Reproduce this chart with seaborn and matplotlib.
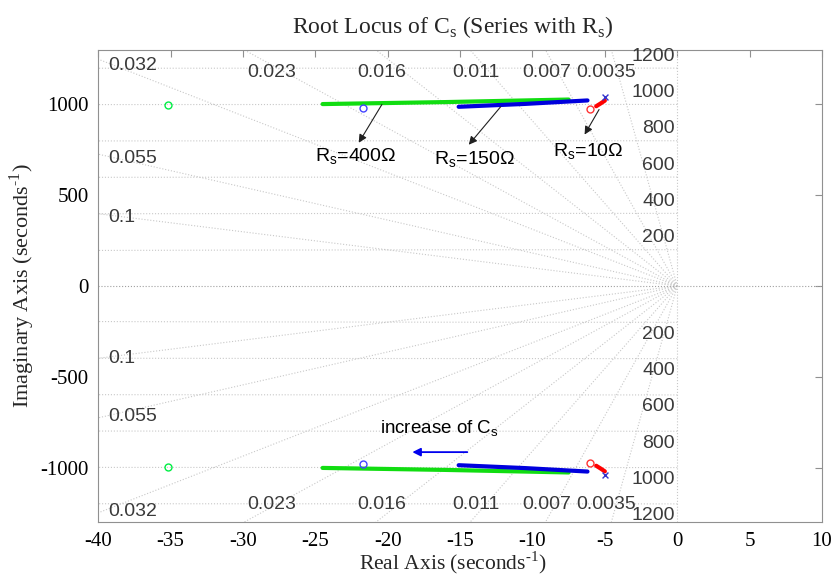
import numpy as np
import pandas as pd
import matplotlib
matplotlib.use("Agg")
import matplotlib.pyplot as plt
import seaborn as sns

sns.set_theme(style="white")
plt.rcParams['font.family'] = ['Liberation Serif', 'DejaVu Serif']
plt.rcParams['axes.unicode_minus'] = False

# root locus branches (upper half, lower half is the conjugate)
green_re = [-24.5, -16.0, -7.5]
green_im = [1002, 1013, 1027]
blue_re = [-15.1, -10.5, -6.2]
blue_im = [987, 1003, 1022]
red_re = [-5.6, -5.3, -5.0]
red_im = [990, 1005, 1021]

# poles / zeros
pole_re = [-5.0]
pole_im = [1043]
zero_re = [-35.2, -21.7, -6.0]
zero_im = [995, 978, 974]
zero_col = ['#00ee44', '#4444ff', '#ff3333']

# sgrid values
zetas = [0.0035, 0.007, 0.011, 0.016, 0.023, 0.032, 0.055, 0.1]
zeta_lbl = ['0.0035', '0.007', '0.011', '0.016', '0.023', '0.032', '0.055', '0.1']
zeta_lbl_x = [-4.9, -9.0, -13.9, -20.4, -28.0, -37.6, -37.6, -38.4]
zeta_lbl_y = [1177, 1177, 1177, 1177, 1177, 1215, 700, 380]
wns = [200, 400, 600, 800, 1000, 1200]

fig = plt.figure(figsize=(8.32, 5.81), dpi=100)
ax = fig.add_axes([0.118, 0.1015, 0.870, 0.8125])

gcol = '#c8c8c8'
# damping lines
for z in zetas:
    slope = np.sqrt(1 - z**2) / z
    xe = -60.0
    for sgn in (1, -1):
        ax.plot([0, xe], [0, sgn * slope * -xe], ls=':', lw=0.8, color=gcol, zorder=1)
# natural frequency circles
th = np.linspace(np.pi / 2, 3 * np.pi / 2, 4000)
for w in wns:
    ax.plot(w * np.cos(th), w * np.sin(th), ls=':', lw=0.8, color=gcol, zorder=1)
ax.axhline(0, ls=':', lw=0.8, color='#a0a0a0', zorder=1)
ax.axvline(0, ls=':', lw=0.8, color=gcol, zorder=1)

lab_font = dict(family=['Liberation Sans', 'DejaVu Sans'], fontsize=14, color='#3a3a3a')
for lbl, lx, ly in zip(zeta_lbl, zeta_lbl_x, zeta_lbl_y):
    ax.text(lx, ly, lbl, ha='center', va='center', **lab_font)
    ly2 = -ly - 25 if ly > 1000 else -ly - 18
    ax.text(lx, ly2, lbl, ha='center', va='center', **lab_font)
for w in wns:
    ax.text(-0.15, w + 65, str(w), ha='right', va='center', **lab_font)
    ax.text(-0.15, -w - 65, str(w), ha='right', va='center', **lab_font)

# loci
for xs, ys, c in [(green_re, green_im, '#11dd11'), (blue_re, blue_im, '#0000dd'), (red_re, red_im, '#ff0000')]:
    for sgn in (1, -1):
        df = pd.DataFrame({'re': xs, 'im': [sgn * v for v in ys]})
        sns.lineplot(data=df, x='re', y='im', sort=False, estimator=None, color=c, lw=3, ax=ax, zorder=3)

zdf = pd.DataFrame({'re': zero_re * 2, 'im': zero_im + [-v for v in zero_im], 'c': zero_col * 2})
for _, r in zdf.iterrows():
    ax.plot(r['re'], r['im'], 'o', ms=5, mfc='none', mec=r['c'], mew=1, zorder=4)
pdf = pd.DataFrame({'re': pole_re * 2, 'im': pole_im + [-v for v in pole_im]})
sns.scatterplot(data=pdf, x='re', y='im', marker='x', s=18, color='#3333cc', linewidth=1, ax=ax, zorder=4)

# annotations
ann_font = dict(family=['Liberation Sans', 'DejaVu Sans'], fontsize=14, color='black')
arrow = dict(arrowstyle='-|>', color='#202020', lw=0.8, mutation_scale=12, shrinkA=0, shrinkB=0)
ax.annotate('', xy=(-22.0, 789), xytext=(-20.4, 1000), arrowprops=arrow)
ax.annotate('', xy=(-14.4, 778), xytext=(-12.2, 987), arrowprops=arrow)
ax.annotate('', xy=(-6.4, 834), xytext=(-5.4, 972), arrowprops=arrow)
ax.text(-22.2, 714, 'R$_\\mathregular{s}$=400\u03a9', ha='center', va='center', **ann_font)
ax.text(-14.0, 695, 'R$_\\mathregular{s}$=150\u03a9', ha='center', va='center', **ann_font)
ax.text(-6.15, 741, 'R$_\\mathregular{s}$=10\u03a9', ha='center', va='center', **ann_font)
ax.text(-16.4, -789, 'increase of C$_\\mathregular{s}$', ha='center', va='center',
        family=['Liberation Sans', 'DejaVu Sans'], fontsize=13.5, color='black')
ax.annotate('', xy=(-18.3, -915), xytext=(-14.5, -915),
            arrowprops=dict(arrowstyle='-|>', color='#0000ee', lw=1.3, mutation_scale=12,
                            shrinkA=0, shrinkB=0))

ax.set_xlim(-40, 10)
ax.set_ylim(-1300, 1300)
ax.set_xticks(np.arange(-40, 11, 5))
ax.set_yticks([-1000, -500, 0, 500, 1000])
ax.set_xticklabels([str(v) for v in range(-40, 11, 5)])
ax.set_yticklabels(['-1000', '-500', '0', '500', '1000'])
ax.tick_params(direction='in', length=5, width=0.8, color='#909090', top=True, right=True,
               labelsize=15, labelcolor='black', pad=7)
for s in ax.spines.values():
    s.set_color('#909090')
    s.set_linewidth(0.8)

ax.set_xlabel('Real Axis (seconds$^{\\mathregular{\u20101}}$)', fontsize=15.5)
ax.set_ylabel('Imaginary Axis (seconds$^{\\mathregular{\u20101}}$)', fontsize=16)
ax.xaxis.set_label_coords(0.49, -0.058)
ax.yaxis.set_label_coords(-0.085, 0.5)
ax.set_title('Root Locus of C$_\\mathregular{s}$ (Series with R$_\\mathregular{s}$)', fontsize=17, pad=12,
             x=0.49)

fig.savefig('out.png', dpi=100)
